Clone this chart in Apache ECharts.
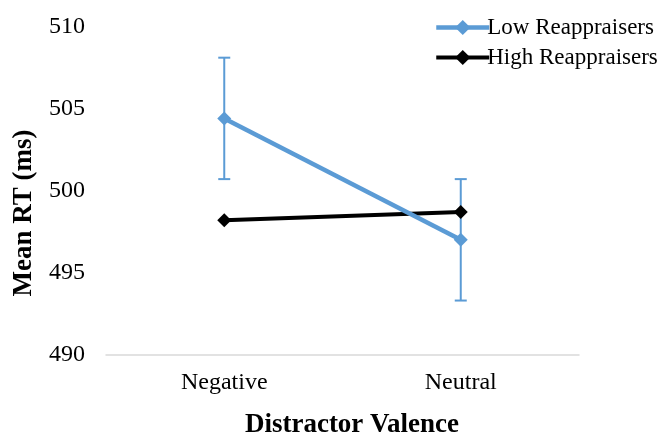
<!DOCTYPE html>
<html><head><meta charset="utf-8">
<script src="https://cdn.jsdelivr.net/npm/echarts@6/dist/echarts.min.js"></script>
<style>html,body{margin:0;padding:0;background:#fff}#c{width:667px;height:436px}</style>
</head><body><div id="c"></div>
<script>
var categories = ['Negative', 'Neutral'];
var lowValues = [504.4, 497.0];
var highValues = [498.2, 498.7];
var lowErrLower = [500.7, 493.3];
var lowErrUpper = [508.1, 500.7];
var yTicks = [490, 495, 500, 505, 510];

var FONT = 'Liberation Serif, Times New Roman, serif';
var BLUE = '#5b9bd5';
var chart = echarts.init(document.getElementById('c'));
var errData = categories.map(function (c, i) { return [i, lowErrLower[i], lowErrUpper[i]]; });
chart.setOption({
  animation: false,
  grid: { left: 106, right: 88, top: 26.5, bottom: 81.3 },
  legend: {
    orient: 'vertical', left: 429, top: 11, itemWidth: 53, itemHeight: 19, itemGap: 7,
    textStyle: { fontFamily: FONT, fontSize: 23, color: '#000', padding: [0, 0, 0, -7] },
    data: [
      { name: 'Low Reappraisers', lineStyle: { width: 4.5, color: BLUE } },
      { name: 'High Reappraisers', lineStyle: { width: 4, color: '#000' } }
    ]
  },
  xAxis: {
    type: 'category', data: categories, boundaryGap: true,
    axisLine: { lineStyle: { color: '#d9d9d9', width: 1.5 } },
    axisTick: { show: false },
    axisLabel: { fontFamily: FONT, fontSize: 24, color: '#000', margin: 16 }
  },
  yAxis: {
    type: 'value', min: yTicks[0], max: yTicks[yTicks.length - 1], interval: 5,
    axisLine: { show: false }, axisTick: { show: false }, splitLine: { show: false },
    axisLabel: { fontFamily: FONT, fontSize: 24, color: '#000', margin: 21 }
  },
  graphic: [
    { type: 'text', x: 24, y: 213, rotation: Math.PI / 2,
      style: { text: 'Mean RT (ms)', align: 'center', verticalAlign: 'middle', font: 'bold 27px ' + FONT, fill: '#000' } },
    { type: 'text', x: 352, y: 425,
      style: { text: 'Distractor Valence', align: 'center', verticalAlign: 'middle', font: 'bold 27px ' + FONT, fill: '#000' } }
  ],
  series: [
    {
      type: 'custom', name: 'errLow', z: 1, silent: true,
      renderItem: function (params, api) {
        var x = api.value(0);
        var p1 = api.coord([x, api.value(1)]);
        var p2 = api.coord([x, api.value(2)]);
        var w = 6;
        var st = { stroke: BLUE, lineWidth: 2 };
        return { type: 'group', children: [
          { type: 'line', shape: { x1: p1[0], y1: p1[1], x2: p2[0], y2: p2[1] }, style: st },
          { type: 'line', shape: { x1: p1[0] - w, y1: p1[1], x2: p1[0] + w, y2: p1[1] }, style: st },
          { type: 'line', shape: { x1: p2[0] - w, y1: p2[1], x2: p2[0] + w, y2: p2[1] }, style: st }
        ]};
      },
      encode: { x: 0, y: [1, 2] },
      data: errData
    },
    {
      type: 'line', name: 'Low Reappraisers', data: lowValues, z: 3,
      symbol: 'diamond', symbolSize: 14,
      lineStyle: { color: BLUE, width: 4.5 }, itemStyle: { color: BLUE }
    },
    {
      type: 'line', name: 'High Reappraisers', data: highValues, z: 2,
      symbol: 'diamond', symbolSize: 14,
      lineStyle: { color: '#000', width: 4 }, itemStyle: { color: '#000' }
    }
  ]
});
</script></body></html>
